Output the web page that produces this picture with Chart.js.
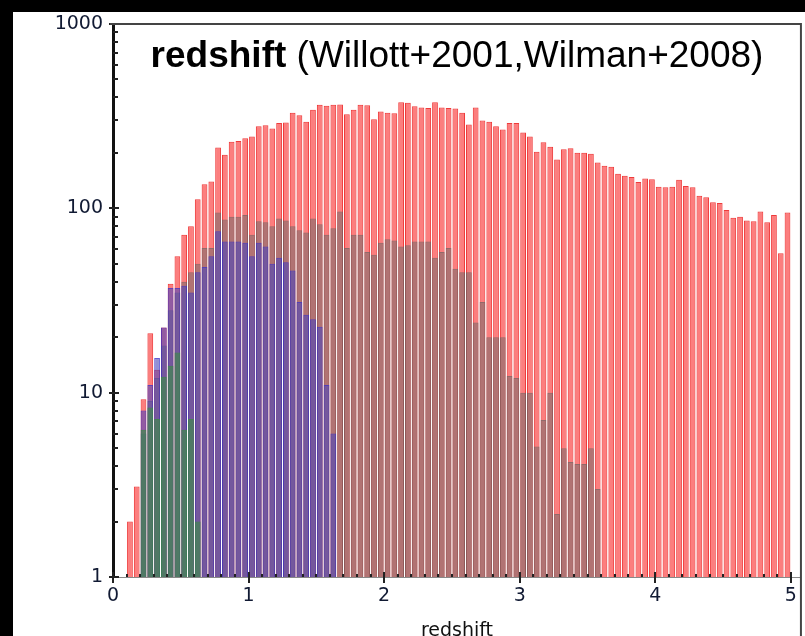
<!DOCTYPE html>
<html><head><meta charset="utf-8">
<script src="https://cdn.jsdelivr.net/npm/chart.js@4/dist/chart.umd.min.js"></script>
<style>
html,body{margin:0;padding:0;background:#000;overflow:hidden;width:805px;height:636px;}
#wrap{position:relative;width:805px;height:648px;}
#c{position:absolute;left:0;top:0;}
#title{position:absolute;left:113px;width:688px;top:36px;text-align:center;font-family:"Liberation Sans",Arial,sans-serif;font-size:37px;line-height:37px;color:#000;white-space:nowrap;}
#title b{font-weight:bold;}
</style></head>
<body>
<div id="wrap">
<canvas id="c" width="805" height="648"></canvas>
<div id="title"><b>redshift</b> (Willott+2001,Wilman+2008)</div>
</div>
<script>
// bin centres (redshift), 100 bins of width 0.05 from 0 to 5
const binCenters = [0.025,0.075,0.125,0.175,0.225,0.275,0.325,0.375,0.425,0.475,
0.525,0.575,0.625,0.675,0.725,0.775,0.825,0.875,0.925,0.975,
1.025,1.075,1.125,1.175,1.225,1.275,1.325,1.375,1.425,1.475,
1.525,1.575,1.625,1.675,1.725,1.775,1.825,1.875,1.925,1.975,
2.025,2.075,2.125,2.175,2.225,2.275,2.325,2.375,2.425,2.475,
2.525,2.575,2.625,2.675,2.725,2.775,2.825,2.875,2.925,2.975,
3.025,3.075,3.125,3.175,3.225,3.275,3.325,3.375,3.425,3.475,
3.525,3.575,3.625,3.675,3.725,3.775,3.825,3.875,3.925,3.975,
4.025,4.075,4.125,4.175,4.225,4.275,4.325,4.375,4.425,4.475,
4.525,4.575,4.625,4.675,4.725,4.775,4.825,4.875,4.925,4.975];

const redCounts = [null,null,2,3.1,9.2,21,13.3,22.6,39,55,
72,80,112,135,140,214,195,230,232,240,
245,279,282,271,290,292,330,320,295,343,
365,360,365,366,324,343,365,362,304,335,
330,328,376,374,358,352,350,376,352,350,
348,330,285,352,300,295,279,268,290,290,
258,245,203,228,216,184,209,212,200,200,
198,177,170,168,154,150,148,139,145,144,
131,130,131,143,132,130,117,115,108,107,
98,89,90,86,85,96,84,92,57,95];

const grayCounts = [null,null,null,null,6,9,12,18,28,35,
40,45,50,61,61,95,87,90,90,92,
72,85,84,80,88,86,80,76,74,88,
82,72,78,96,61,72,72,58,56,65,
68,67,62,63,66,66,66,54,58,61,
47,45,45,24,31,20,20,20,12.3,12,
10,10,5.1,7.1,10,2.2,5,4.2,4.1,4.1,
5,3,null,null,null,null,null,null,null,null,
null,null,null,null,null,null,null,null,null,null,
null,null,null,null,null,null,null,null,null,null];

const blueCounts = [null,null,null,null,8,11,15.4,22.6,37,37,
38,35,45,48,55,75,66,66,66,65,
55,65,62,50,54,51,46,31,26.5,25,
22.8,11,6,null,null,null,null,null,null,null,
null,null,null,null,null,null,null,null,null,null,
null,null,null,null,null,null,null,null,null,null,
null,null,null,null,null,null,null,null,null,null,
null,null,null,null,null,null,null,null,null,null,
null,null,null,null,null,null,null,null,null,null,
null,null,null,null,null,null,null,null,null,null];

const greenCounts = [null,null,null,null,6.3,8.3,7.2,12.2,14,16.5,
6.3,7.2,2.0,null,null,null,null,null,null,null,
null,null,null,null,null,null,null,null,null,null,
null,null,null,null,null,null,null,null,null,null,
null,null,null,null,null,null,null,null,null,null,
null,null,null,null,null,null,null,null,null,null,
null,null,null,null,null,null,null,null,null,null,
null,null,null,null,null,null,null,null,null,null,
null,null,null,null,null,null,null,null,null,null,
null,null,null,null,null,null,null,null,null,null];

const xTickValues = [0,1,2,3,4,5];
const yTickValues = [1,10,100,1000];
const xAxisTitle = 'redshift';

function pts(arr){ return arr.map((v,i)=>({x:binCenters[i], y:v})); }

const bgPlugin = {
  id:'bg',
  beforeDraw(chart){
    const c = chart.ctx;
    c.save();
    c.fillStyle='#000'; c.fillRect(0,0,chart.width,chart.height);
    c.fillStyle='#fff'; c.fillRect(13,12,chart.width-13,chart.height-12);
    c.restore();
  }
};

const tickPlugin = {
  id:'ticksframe',
  afterDraw(chart){
    const c = chart.ctx, a = chart.chartArea, xs = chart.scales.x, ys = chart.scales.y;
    c.save();
    const line=(x1,y1,x2,y2)=>{c.beginPath();c.moveTo(x1,y1);c.lineTo(x2,y2);c.stroke();};
    c.strokeStyle='#222'; c.lineWidth=2;
    for (let d=1; d<1000; d*=10){
      for (let m=2; m<10; m++){
        const p = Math.round(ys.getPixelForValue(m*d));
        line(a.left, p, a.left+5, p);
      }
    }
    for (const v of yTickValues){
      const p = Math.round(ys.getPixelForValue(v));
      line(a.left-4, p, a.left+6, p);
    }
    for (let k=1; k<50; k++){
      if (k%10===0) continue;
      const p = Math.round(xs.getPixelForValue(k/10));
      line(p, a.bottom, p, a.bottom-3);
    }
    for (const v of xTickValues){
      const p = Math.round(xs.getPixelForValue(v));
      line(p, a.bottom-5, p, a.bottom+6);
    }
    c.strokeStyle='#444'; c.lineWidth=2;
    line(a.left-3, a.top, a.right, a.top);
    line(a.right, a.top-1, a.right, chart.height);
    c.restore();
  }
};

const common = {grouped:false, barPercentage:0.85, categoryPercentage:1, borderWidth:1, borderSkipped:'start'};

new Chart(document.getElementById('c'), {
  type:'bar',
  data:{
    datasets:[
      Object.assign({label:'all', order:4, data:pts(redCounts), backgroundColor:'rgba(250,40,40,0.6)', borderColor:'rgba(235,25,25,0.85)'}, common),
      Object.assign({label:'gray', order:3, data:pts(grayCounts), backgroundColor:'rgba(115,105,105,0.55)', borderColor:'rgba(110,100,100,0.75)'}, common),
      Object.assign({label:'blue', order:2, data:pts(blueCounts), backgroundColor:'rgba(75,70,185,0.6)', borderColor:'rgba(60,50,200,0.8)'}, common),
      Object.assign({label:'green', order:1, data:pts(greenCounts), backgroundColor:'rgba(60,140,70,0.65)', borderColor:'rgba(60,140,70,0.85)'}, common)
    ]
  },
  options:{
    responsive:false, animation:false, devicePixelRatio:1,
    layout:{padding:{left:13, top:24, right:4, bottom:0}},
    plugins:{legend:{display:false}, tooltip:{enabled:false}},
    scales:{
      x:{
        type:'linear', min:0, max:5.074, z:1, offset:false,
        afterBuildTicks(s){ s.ticks = xTickValues.map(v=>({value:v})); },
        afterFit(s){ s.height = 71; },
        grid:{display:false, drawTicks:false, offset:false},
        border:{display:true, color:'#888', width:1},
        ticks:{padding:8, autoSkip:false, maxRotation:0, color:'#111a33', font:{family:'"DejaVu Sans"', size:19}, callback:(v)=>String(v)},
        title:{display:true, text:xAxisTitle, color:'#111', font:{family:'"DejaVu Sans"', size:19}, padding:{top:0,bottom:6}}
      },
      y:{
        type:'logarithmic', min:1, max:1000, z:1,
        afterBuildTicks(s){ s.ticks = yTickValues.map(v=>({value:v})); },
        afterFit(s){ s.width = 100; },
        grid:{display:false, drawTicks:false},
        border:{display:true, color:'#111', width:3},
        ticks:{padding:10, autoSkip:false, color:'#111a33', font:{family:'"DejaVu Sans"', size:19}, callback:(v)=>String(v)}
      }
    }
  },
  plugins:[bgPlugin, tickPlugin]
});
</script>
</body></html>
